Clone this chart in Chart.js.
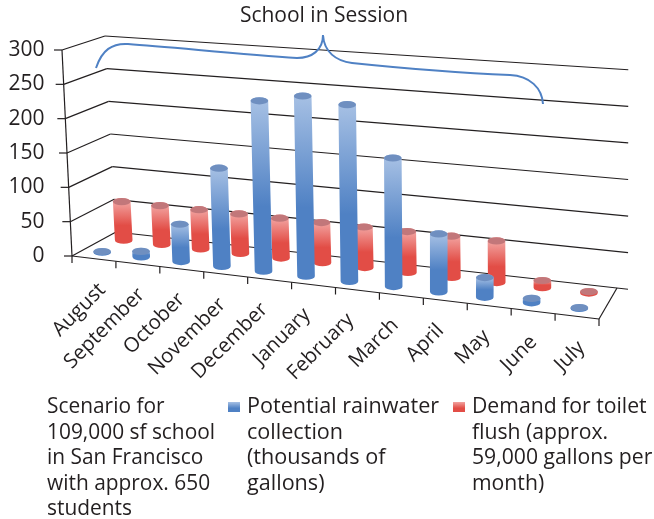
<!DOCTYPE html>
<html>
<head>
<meta charset="utf-8">
<script src="https://cdn.jsdelivr.net/npm/chart.js@4"></script>
<style>
  html, body { margin: 0; padding: 0; background: #fff; }
  canvas { display: block; }
</style>
</head>
<body>
<canvas id="myChart" width="654" height="519"></canvas>
<script>
let months = ["August", "September", "October", "November", "December", "January", "February", "March", "April", "May", "June", "July"];
let rainwater = [1, 8, 54, 141, 243, 255, 248, 179, 80, 27, 6, 1];
let demand = [58, 58, 58, 58, 58, 58, 58, 58, 58, 58, 10, 2];
let yTicks = [0, 50, 100, 150, 200, 250, 300];
let noteLines = ["Scenario for", "109,000 sf school", "in San Francisco", "with approx. 650", "students"];
let rainLines = ["Potential rainwater", "collection", "(thousands of", "gallons)"];
let demandLines = ["Demand for toilet", "flush (approx.", "59,000 gallons per", "month)"];

let inkColor = "#231f20";
let fontName = "'Open Sans'";

// corners of the 3d box on screen: front/back, left/right, floor/top
let box = {
  fl0: [72, 256], fr0: [599, 319], bl0: [116, 232], br0: [617, 288],
  fl1: [62, 50], fr1: [605, 94], bl1: [105, 36], br1: [617, 69]
};

function mix(a, b, t) {
  return [a[0] + (b[0] - a[0]) * t, a[1] + (b[1] - a[1]) * t];
}

// u along the months, v into the page, w up the value axis
function project(u, v, w) {
  let floor = mix(mix(box.fl0, box.fr0, u), mix(box.bl0, box.br0, u), v);
  let top = mix(mix(box.fl1, box.fr1, u), mix(box.bl1, box.br1, u), v);
  return mix(floor, top, w);
}

// the columns bunch up on the left a bit, like Excel's perspective
function warp(u) {
  return u - 0.12 * u * (1 - u);
}

function line(ctx, a, b) {
  ctx.beginPath();
  ctx.moveTo(a[0], a[1]);
  ctx.lineTo(b[0], b[1]);
  ctx.stroke();
}

function drawBox(ctx) {
  ctx.strokeStyle = inkColor;
  ctx.lineWidth = 1.2;
  for (let i = 0; i < yTicks.length; i++) {
    let w = yTicks[i] / 300;
    let front = project(0, 0, w);
    line(ctx, [front[0] - 8, front[1]], front);
    line(ctx, front, project(0, 1, w));
    line(ctx, project(0, 1, w), project(1.022, 1, w));
  }
  line(ctx, project(0, 0, 0), project(0, 0, 1));
  line(ctx, project(0, 0, 0), project(1, 0, 0));
  line(ctx, project(1, 0, 0), project(1, 1, 0));
  for (let i = 0; i <= months.length; i++) {
    let p = project(i / months.length, 0, 0);
    line(ctx, p, [p[0], p[1] + 7]);
  }
}

function drawCylinder(ctx, base, top, colors) {
  let rx = 8.8, ry = 3.6;
  let grad = ctx.createLinearGradient(0, top[1], 0, base[1]);
  grad.addColorStop(0, colors[0]);
  grad.addColorStop(0.62, colors[1]);
  grad.addColorStop(1, colors[1]);
  ctx.fillStyle = grad;
  ctx.beginPath();
  ctx.ellipse(top[0], top[1], rx, ry, 0, Math.PI, 0, false);
  ctx.lineTo(base[0] + rx, base[1]);
  ctx.ellipse(base[0], base[1], rx, ry, 0, 0, Math.PI, false);
  ctx.closePath();
  ctx.fill();
  ctx.fillStyle = colors[2];
  ctx.beginPath();
  ctx.ellipse(top[0], top[1], rx, ry, 0, 0, Math.PI * 2);
  ctx.fill();
}

function drawSeries(chart, index, depth, colors) {
  let ctx = chart.ctx;
  let area = chart.chartArea;
  chart.getDatasetMeta(index).data.forEach(bar => {
    let u = warp((bar.x - area.left) / (area.right - area.left));
    let w = (area.bottom - bar.y) / (area.bottom - area.top);
    drawCylinder(ctx, project(u, depth, 0), project(u, depth, w), colors);
  });
}

function drawMonthLabels(chart) {
  let ctx = chart.ctx;
  let area = chart.chartArea;
  let xScale = chart.scales.x;
  ctx.fillStyle = inkColor;
  ctx.font = "20.3px " + fontName;
  ctx.textAlign = "right";
  ctx.textBaseline = "middle";
  months.forEach((m, i) => {
    let u = warp((xScale.getPixelForValue(i) - area.left) / (area.right - area.left));
    let p = project(u, 0, 0);
    ctx.save();
    ctx.translate(p[0] + 11 - 4 * u, p[1] + 28.5);
    ctx.rotate(-Math.PI / 4);
    ctx.fillText(xScale.getLabelForValue(i), 0, 0);
    ctx.restore();
  });
}

function drawBrace(ctx) {
  ctx.strokeStyle = "#4f81c4";
  ctx.lineWidth = 2;
  ctx.beginPath();
  ctx.moveTo(96, 68);
  ctx.bezierCurveTo(102, 50, 112, 43, 128, 44);
  ctx.bezierCurveTo(170, 47, 240, 54, 297, 58);
  ctx.bezierCurveTo(312, 58, 323, 50, 323, 35);
  ctx.bezierCurveTo(324, 52, 336, 61, 352, 63);
  ctx.bezierCurveTo(400, 68, 460, 73, 510, 75);
  ctx.bezierCurveTo(530, 76, 542, 88, 543, 104);
  ctx.stroke();
}

function drawTextBlock(ctx, lines, x, y, size) {
  ctx.fillStyle = inkColor;
  ctx.font = size + "px " + fontName;
  ctx.textAlign = "left";
  ctx.textBaseline = "alphabetic";
  lines.forEach((t, i) => ctx.fillText(t, x, y + i * 25.5));
}

function drawKey(ctx, x, y, colors) {
  let grad = ctx.createLinearGradient(0, y, 0, y + 10);
  grad.addColorStop(0, colors[0]);
  grad.addColorStop(0.62, colors[1]);
  ctx.fillStyle = grad;
  ctx.fillRect(x, y, 12, 10);
}

let blueColors = ["#a6c0e4", "#4f81c4", "#6f8fc0"];
let redColors = ["#f2a3a0", "#e24d46", "#c2777a"];

let cylinderPlugin = {
  id: "cylinders",
  beforeDatasetsDraw(chart) {
    let ctx = chart.ctx;
    ctx.save();
    drawBox(ctx);
    drawSeries(chart, 1, 0.75, redColors);
    drawSeries(chart, 0, 0.25, blueColors);
    drawBrace(ctx);
    drawMonthLabels(chart);
    drawTextBlock(ctx, noteLines, 47, 413, 20.9);
    drawKey(ctx, 228, 402, blueColors);
    drawTextBlock(ctx, rainLines, 247, 413, 21.6);
    drawKey(ctx, 453, 402, redColors);
    drawTextBlock(ctx, demandLines, 472, 413, 21.2);
    ctx.restore();
    return false;
  }
};

new Chart("myChart", {
  type: "bar",
  data: {
    labels: months,
    datasets: [
      { label: "Potential rainwater collection (thousands of gallons)", data: rainwater, backgroundColor: "#4f81c4", grouped: false },
      { label: "Demand for toilet flush (approx. 59,000 gallons per month)", data: demand, backgroundColor: "#e24d46", grouped: false }
    ]
  },
  plugins: [cylinderPlugin],
  options: {
    responsive: false,
    animation: false,
    layout: { padding: { left: 0, right: 6, top: 3, bottom: 263 } },
    plugins: {
      legend: { display: false },
      tooltip: { enabled: false },
      title: {
        display: true,
        text: "School in Session",
        color: inkColor,
        font: { family: fontName, size: 21, weight: "normal", lineHeight: 1.2 },
        padding: { top: 0, bottom: 21.8 }
      }
    },
    scales: {
      x: { display: false, grid: { display: false } },
      y: {
        min: 0,
        max: 300,
        afterFit(scale) { scale.width = 72; },
        afterBuildTicks(scale) { scale.ticks = yTicks.map(v => ({ value: v })); },
        grid: { display: false, drawTicks: false },
        border: { display: false },
        ticks: { color: inkColor, padding: 27.5, font: { family: fontName, size: 21 } }
      }
    }
  }
});
</script>
</body>
</html>
